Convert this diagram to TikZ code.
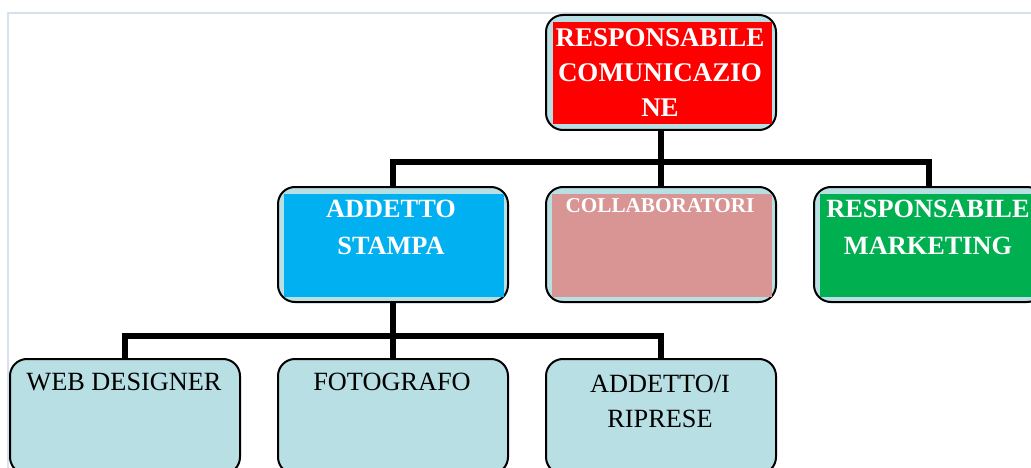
\documentclass[tikz,border=0pt]{standalone}
\usepackage{fontspec}
\setmainfont{Liberation Serif}
\definecolor{lightfill}{HTML}{B8DFE3}
\definecolor{redfill}{HTML}{FF0000}
\definecolor{bluefill}{HTML}{00B0F0}
\definecolor{pinkfill}{HTML}{D99594}
\definecolor{greenfill}{HTML}{00B050}
\definecolor{framecol}{HTML}{D5E1EF}
\tikzset{
  box/.style={draw=black, line width=2pt, fill=lightfill, rounded corners=17pt,
    minimum width=230pt, minimum height=115pt, inner sep=0pt, anchor=north west},
  conn/.style={draw=black, line width=6pt},
  wtext/.style={text=white, inner sep=0pt, align=center, anchor=north,
    font=\fontsize{26.3}{36.5}\selectfont\bfseries},
  btext/.style={text=black, inner sep=0pt, align=center, anchor=north,
    font=\fontsize{26.3}{35}\selectfont},
  framel/.style={draw=framecol, line width=1.8pt}
}
\begin{document}
\begin{tikzpicture}[x=1pt,y=-1pt]
\useasboundingbox (0,0) rectangle (1031,468);
\clip (0,0) rectangle (1031,468);
\draw[framel] (8.3,470) -- (8.3,13) -- (1035,13);
% boxes
\node[box] (rc) at (545,14) {};
\node[box] (as) at (277,186) {};
\node[box] (co) at (545,186) {};
\node[box] (rm) at (813,186) {};
\node[box] (wd) at (9,358) {};
\node[box] (fo) at (277,358) {};
\node[box] (ar) at (545,358) {};
% inner colored panels
\fill[redfill]   ([xshift=8pt,yshift=-8pt]rc.north west) rectangle ([xshift=-5pt,yshift=6.5pt]rc.south east);
\fill[bluefill]  ([xshift=7pt,yshift=-8pt]as.north west) rectangle ([xshift=-5pt,yshift=6.5pt]as.south east);
\fill[pinkfill]  ([xshift=7pt,yshift=-8pt]co.north west) rectangle ([xshift=-5pt,yshift=6.5pt]co.south east);
\fill[greenfill] ([xshift=7pt,yshift=-8pt]rm.north west) rectangle ([xshift=-5pt,yshift=6.5pt]rm.south east);
% connectors
\coordinate (h1) at (0,162.5);
\coordinate (h2) at (0,335.5);
\draw[conn] (rc.south) -- (rc.south |- h1);
\draw[conn] (as.north) |- (rm.north |- h1) -- (rm.north);
\draw[conn] (co.north) -- (co.north |- h1);
\draw[conn] (as.south) -- (as.south |- h2);
\draw[conn] (wd.north) |- (ar.north |- h2) -- (ar.north);
\draw[conn] (fo.north) -- (fo.north |- h2);
% texts
\node[wtext, font=\fontsize{27}{35}\selectfont\bfseries] (t1) at (660,28.5) {RESPONSABILE\\COMUNICAZIO\\NE};
\node[wtext] (t2) at (391,200) {ADDETTO\\STAMPA};
\node[wtext, font=\fontsize{21.2}{28}\selectfont\bfseries] (t3) at (660,198.3) {COLLABORATORI};
\node[wtext] (t4) at (928,200) {RESPONSABILE\\MARKETING};
\node[btext] (t5) at (124,373.3) {WEB DESIGNER};
\node[btext] (t6) at (392,373.3) {FOTOGRAFO};
\node[btext] (t7) at (660,375) {ADDETTO/I\\RIPRESE};
\end{tikzpicture}
\end{document}
